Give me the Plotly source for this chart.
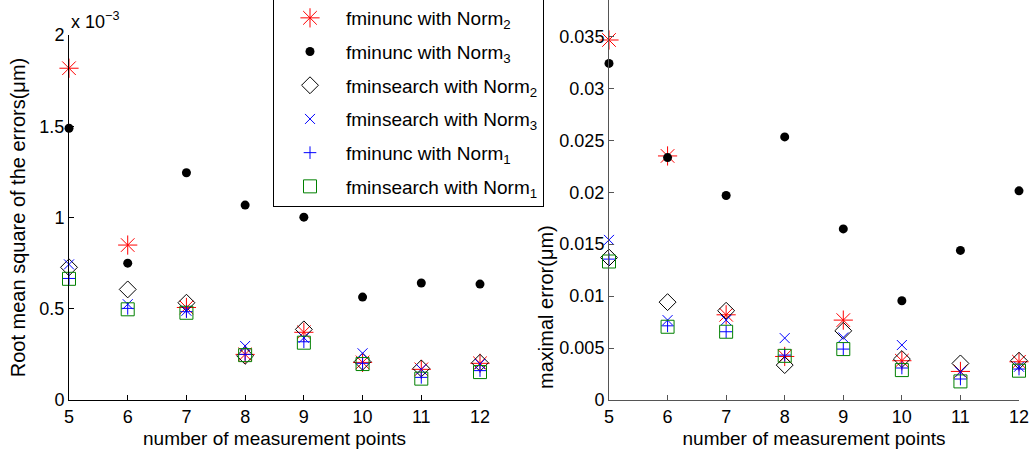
import plotly.graph_objects as go
from plotly.subplots import make_subplots

points = [5, 6, 7, 8, 9, 10, 11, 12]

series_names = [
    "fminunc with Norm<sub>2</sub>",
    "fminunc with Norm<sub>3</sub>",
    "fminsearch with Norm<sub>2</sub>",
    "fminsearch with Norm<sub>3</sub>",
    "fminunc with Norm<sub>1</sub>",
    "fminsearch with Norm<sub>1</sub>",
]

# Root mean square of the errors (um)
rms_fminunc_n2 = [1.818e-3, 0.849e-3, 0.507e-3, 0.250e-3, 0.371e-3, 0.206e-3, 0.168e-3, 0.201e-3]
rms_fminunc_n3 = [1.489e-3, 0.750e-3, 1.245e-3, 1.068e-3, 1.002e-3, 0.564e-3, 0.641e-3, 0.635e-3]
rms_fminsearch_n2 = [0.727e-3, 0.606e-3, 0.533e-3, 0.242e-3, 0.387e-3, 0.210e-3, 0.173e-3, 0.204e-3]
rms_fminsearch_n3 = [0.743e-3, 0.525e-3, 0.489e-3, 0.296e-3, 0.341e-3, 0.256e-3, 0.168e-3, 0.197e-3]
rms_fminunc_n1 = [0.666e-3, 0.502e-3, 0.484e-3, 0.250e-3, 0.319e-3, 0.201e-3, 0.124e-3, 0.161e-3]
rms_fminsearch_n1 = [0.664e-3, 0.497e-3, 0.478e-3, 0.246e-3, 0.314e-3, 0.197e-3, 0.117e-3, 0.153e-3]

# Maximal error (um)
max_fminunc_n2 = [0.03465, 0.02349, 0.00820, 0.00419, 0.00769, 0.00378, 0.00275, 0.00368]
max_fminunc_n3 = [0.03240, 0.02333, 0.01968, 0.02532, 0.01647, 0.00955, 0.01440, 0.02013]
max_fminsearch_n2 = [0.01371, 0.00942, 0.00859, 0.00336, 0.00666, 0.00394, 0.00352, 0.00378]
max_fminsearch_n3 = [0.01541, 0.00769, 0.00769, 0.00596, 0.00602, 0.00529, 0.00270, 0.00320]
max_fminunc_n1 = [0.01356, 0.00714, 0.00657, 0.00432, 0.00490, 0.00308, 0.00202, 0.00298]
max_fminsearch_n1 = [0.01333, 0.00705, 0.00657, 0.00425, 0.00490, 0.00288, 0.00179, 0.00282]

rms_tickvals = [0, 0.5e-3, 1e-3, 1.5e-3, 2e-3]
rms_ticktext = ["0", "0.5", "1", "1.5", "2"]
max_tickvals = [0, 0.005, 0.01, 0.015, 0.02, 0.025, 0.03, 0.035]
max_ticktext = ["0", "0.005", "0.01", "0.015", "0.02", "0.025", "0.03", "0.035"]

styles = [
    dict(symbol="asterisk-open", size=16, color="#ff0000", line=dict(color="#ff0000", width=1)),
    dict(symbol="circle", size=9, color="#000000", line=dict(width=0)),
    dict(symbol="diamond-open", size=13, color="#000000", line=dict(color="#000000", width=1)),
    dict(symbol="x-thin-open", size=10, color="#0000ff", line=dict(color="#0000ff", width=1)),
    dict(symbol="cross-thin-open", size=9, color="#0000ff", line=dict(color="#0000ff", width=1)),
    dict(symbol="square-open", size=13, color="#008000", line=dict(color="#008000", width=1)),
]

rms_series = [rms_fminunc_n2, rms_fminunc_n3, rms_fminsearch_n2,
              rms_fminsearch_n3, rms_fminunc_n1, rms_fminsearch_n1]
max_series = [max_fminunc_n2, max_fminunc_n3, max_fminsearch_n2,
              max_fminsearch_n3, max_fminunc_n1, max_fminsearch_n1]

fig = make_subplots(rows=1, cols=2)

for i, (name, st) in enumerate(zip(series_names, styles)):
    fig.add_trace(go.Scatter(x=points, y=rms_series[i], mode="markers", name=name,
                             marker=st, legendgroup=f"g{i}", showlegend=True,
                             cliponaxis=False),
                  row=1, col=1)
    fig.add_trace(go.Scatter(x=points, y=max_series[i], mode="markers", name=name,
                             marker=st, legendgroup=f"g{i}", showlegend=False,
                             cliponaxis=False),
                  row=1, col=2)

W, H = 1035, 454
ml, mr, mt, mb = 69, 16, 0, 54
pw = W - ml - mr
ph = H - mt - mb

font_family = "Liberation Sans, Arial, sans-serif"
axis_common = dict(
    showline=True, linewidth=1, ticks="inside", ticklen=5, tickwidth=1,
    showgrid=False, zeroline=False, mirror=False,
    tickfont=dict(size=18, color="#000000", family=font_family),
)

fig.update_layout(
    width=W, height=H,
    margin=dict(l=ml, r=mr, t=mt, b=mb, autoexpand=False),
    paper_bgcolor="white", plot_bgcolor="white",
    font=dict(family=font_family, size=18, color="#000000"),
    xaxis=dict(domain=[0, (480 - ml) / pw], range=[5, 12], tickvals=points,
               linecolor="#000000", tickcolor="#000000",
               title=dict(text="number of measurement points", font=dict(size=19), standoff=6),
               **axis_common),
    yaxis=dict(domain=[0, 1 - 35 / ph], range=[0, 2e-3], tickvals=rms_tickvals, ticktext=rms_ticktext,
               linecolor="#000000", tickcolor="#000000",
               title=dict(text="Root mean square of the errors(μm)", font=dict(size=20), standoff=8),
               **axis_common),
    xaxis2=dict(domain=[(609 - ml) / pw, 1], range=[5, 12], tickvals=points,
                linecolor="#555555", tickcolor="#555555",
                title=dict(text="number of measurement points", font=dict(size=19), standoff=6),
                **axis_common),
    yaxis2=dict(domain=[0, 1], range=[0, 0.0385], tickvals=max_tickvals, ticktext=max_ticktext,
                linecolor="#555555", tickcolor="#555555",
                **axis_common),
    legend=dict(
        x=(273 - ml) / pw, xanchor="left",
        y=(ph - 207) / ph, yanchor="bottom",
        bordercolor="#000000", borderwidth=1, bgcolor="white",
        font=dict(size=19, color="#000000", family=font_family),
        itemwidth=62, tracegroupgap=6, traceorder="grouped",
        itemclick=False, itemdoubleclick=False,
    ),
    annotations=[
        dict(text="x 10<sup>−3</sup>", xref="paper", yref="paper",
             x=0, y=(ph - 20) / ph, xanchor="left", yanchor="middle",
             showarrow=False, font=dict(size=18, color="#000000", family=font_family)),
        dict(text="maximal error(μm)", xref="paper", yref="paper", textangle=-90,
             x=(546 - ml) / pw, y=(ph - 307) / ph, xanchor="center", yanchor="middle",
             showarrow=False, font=dict(size=20, color="#000000", family=font_family)),
    ],
)

fig.write_html("out.html", config={"displayModeBar": False},
               post_script="document.body.style.margin='0px';document.body.style.overflow='hidden';")
